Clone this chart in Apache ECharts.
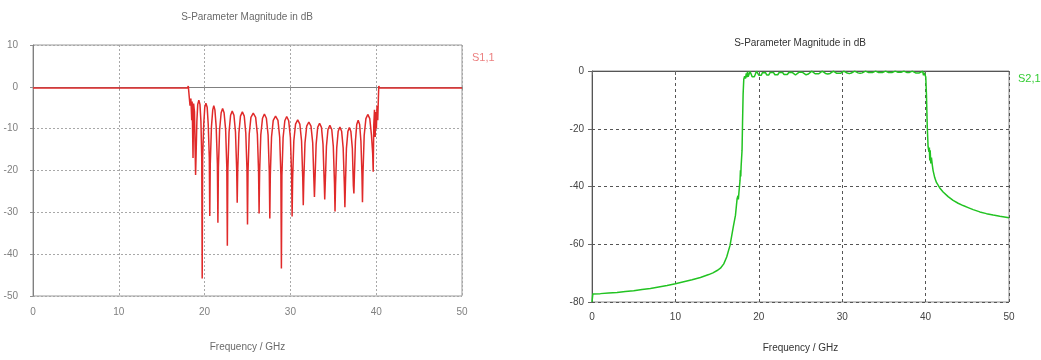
<!DOCTYPE html>
<html>
<head>
<meta charset="utf-8">
<script src="https://cdn.jsdelivr.net/npm/echarts@6/dist/echarts.min.js"></script>
<style>
html,body{margin:0;padding:0;background:#fff;}
#chart{width:1041px;height:360px;}
</style>
</head>
<body>
<div id="chart"></div>
<script>
// ---- data (frequency GHz, magnitude dB) ----
const chartTitle = 'S-Parameter Magnitude in dB';
const xAxisName = 'Frequency / GHz';
const s11Name = 'S1,1';
const s21Name = 'S2,1';

const s11Data = [
  [0,-0.3],[18.0,-0.3],[18.1,0.2],[18.2,-2.2],[18.3,-4.5],[18.4,-2.8],[18.5,-8],[18.55,-3.5],[18.65,-17],[18.72,-4],[18.82,-6],[18.95,-21.1],
  [19.0,-17],[19.1,-8.2],[19.2,-4.2],[19.33,-3.2],[19.46,-4.2],[19.57,-8.2],[19.67,-17],[19.72,-45.8],
  [19.77,-17],[19.9,-8.9],[20.02,-4.9],[20.15,-3.9],[20.3,-4.9],[20.42,-8.9],[20.55,-17],[20.6,-30.9],
  [20.66,-18.5],[20.8,-9.5],[20.95,-5.5],[21.07,-4.5],[21.2,-5.5],[21.35,-9.5],[21.49,-18.5],[21.55,-32.5],
  [21.61,-19.2],[21.75,-10.2],[21.93,-6.2],[22.1,-5.2],[22.27,-6.2],[22.45,-10.2],[22.59,-19.2],[22.65,-38],
  [22.71,-19.8],[22.85,-10.8],[23.03,-6.8],[23.22,-5.8],[23.42,-6.8],[23.6,-10.8],[23.74,-19.8],[23.8,-27.7],
  [23.86,-20],[24.0,-11],[24.18,-7],[24.4,-6.0],[24.62,-7],[24.8,-11],[24.94,-20],[25.0,-32.9],
  [25.06,-20.3],[25.2,-11.3],[25.4,-7.3],[25.67,-6.3],[25.95,-7.3],[26.15,-11.3],[26.29,-20.3],[26.35,-30.3],
  [26.41,-20.5],[26.55,-11.5],[26.75,-7.5],[26.97,-6.5],[27.2,-7.5],[27.4,-11.5],[27.54,-20.5],[27.6,-31.5],
  [27.66,-21],[27.8,-12],[28.0,-8],[28.27,-7.0],[28.55,-8],[28.75,-12],[28.89,-21],[28.95,-43.4],
  [29.01,-21.1],[29.15,-12.1],[29.35,-8.1],[29.57,-7.1],[29.8,-8.1],[30.0,-12.1],[30.14,-21.1],[30.2,-31.0],
  [30.26,-21.9],[30.4,-12.9],[30.6,-8.9],[30.85,-7.9],[31.1,-8.9],[31.3,-12.9],[31.44,-21.9],[31.5,-28.3],
  [31.56,-22.4],[31.7,-13.4],[31.9,-9.4],[32.15,-8.4],[32.4,-9.4],[32.6,-13.4],[32.74,-22.4],[32.8,-26.3],
  [32.86,-22.7],[33.0,-13.7],[33.18,-9.7],[33.4,-8.7],[33.62,-9.7],[33.8,-13.7],[33.94,-22.7],[34.0,-26.9],
  [34.06,-23.2],[34.2,-14.2],[34.38,-10.2],[34.6,-9.2],[34.82,-10.2],[35.0,-14.2],[35.14,-23.2],[35.2,-29.8],
  [35.26,-23.6],[35.4,-14.6],[35.57,-10.6],[35.77,-9.6],[35.97,-10.6],[36.15,-14.6],[36.29,-23.6],[36.35,-28.8],
  [36.41,-23.7],[36.53,-14.7],[36.7,-10.7],[36.87,-9.7],[37.05,-10.7],[37.22,-14.7],[37.34,-23.7],[37.4,-25.5],
  [37.46,-21],[37.58,-13],[37.73,-9],[37.9,-8.0],[38.07,-9],[38.22,-13],[38.34,-21],[38.4,-27.6],
  [38.46,-20.6],[38.6,-11.6],[38.8,-7.6],[39.02,-6.6],[39.25,-7.6],[39.45,-11.6],[39.59,-16],[39.65,-20.3],
  [39.72,-9],[39.8,-5.5],[39.88,-12],[39.95,-6],[40.02,-10],[40.1,-4.5],[40.18,-8],[40.25,-3],[40.3,0.2],[40.4,-0.3],[50,-0.3]
];

const s21Data = [
  [0,-80],[0.1,-77.2],[1,-77.1],[2,-76.9],[3,-76.7],[4,-76.4],[5,-76.1],[6,-75.7],[7,-75.3],[8,-74.8],
  [9,-74.3],[10,-73.7],[11,-73.0],[12,-72.3],[13,-71.5],[14,-70.5],[14.5,-69.9],[15,-69.1],[15.4,-68.3],
  [15.8,-66.8],[16.15,-64.4],[16.55,-60.4],[16.94,-54],[17.2,-50],[17.4,-44.2],[17.5,-43.2],[17.55,-44.5],[17.62,-42],
  [17.75,-37.9],[17.8,-34.4],[17.84,-36.5],[17.88,-33],[17.99,-27.5],[18.05,-18],[18.12,-8],[18.2,-2.8],[18.3,-1.8],
  [18.4,-2.6],[18.5,-0.8],[18.55,-2.2],[18.65,-0.3],[18.72,-2.0],[18.82,-1.2],[18.95,-0.2],
  [19.1,-1.2],[19.2,-2.0],[19.33,-2.4],[19.46,-2.0],[19.57,-1.2],[19.72,-0.05],
  [19.92,-0.6],[20.02,-1.5],[20.15,-1.9],[20.3,-1.5],[20.42,-0.6],[20.6,-0.05],
  [20.8,-0.55],[20.95,-1.35],[21.07,-1.7],[21.2,-1.35],[21.35,-0.55],[21.55,-0.05],
  [21.75,-0.5],[21.93,-1.3],[22.1,-1.6],[22.27,-1.3],[22.45,-0.5],[22.65,-0.05],
  [22.85,-0.5],[23.03,-1.2],[23.22,-1.5],[23.42,-1.2],[23.6,-0.5],[23.8,-0.05],
  [24.0,-0.45],[24.18,-1.1],[24.4,-1.4],[24.62,-1.1],[24.8,-0.45],[25.0,-0.05],
  [25.2,-0.4],[25.4,-1.05],[25.67,-1.3],[25.95,-1.05],[26.15,-0.4],[26.35,-0.05],
  [26.55,-0.4],[26.75,-0.95],[26.97,-1.2],[27.2,-0.95],[27.4,-0.4],[27.6,-0.05],
  [27.8,-0.35],[28.0,-0.85],[28.27,-1.05],[28.55,-0.85],[28.75,-0.35],[28.95,-0.05],
  [29.15,-0.3],[29.35,-0.8],[29.57,-1.0],[29.8,-0.8],[30.0,-0.3],[30.2,-0.05],
  [30.4,-0.3],[30.6,-0.7],[30.85,-0.9],[31.1,-0.7],[31.3,-0.3],[31.5,-0.05],
  [31.7,-0.25],[31.9,-0.65],[32.15,-0.8],[32.4,-0.65],[32.6,-0.25],[32.8,-0.05],
  [33.0,-0.25],[33.18,-0.55],[33.4,-0.7],[33.62,-0.55],[33.8,-0.25],[34.0,-0.05],
  [34.2,-0.2],[34.38,-0.5],[34.6,-0.65],[34.82,-0.5],[35.0,-0.2],[35.2,-0.05],
  [35.4,-0.2],[35.57,-0.5],[35.77,-0.6],[35.97,-0.5],[36.15,-0.2],[36.35,-0.05],
  [36.53,-0.2],[36.7,-0.45],[36.87,-0.55],[37.05,-0.45],[37.22,-0.2],[37.4,-0.05],
  [37.58,-0.2],[37.73,-0.5],[37.9,-0.6],[38.07,-0.5],[38.22,-0.2],[38.4,-0.05],
  [38.6,-0.3],[38.8,-0.65],[39.02,-0.8],[39.25,-0.65],[39.45,-0.3],[39.65,-0.1],
  [39.75,-1.5],[39.85,-0.6],[39.95,-1.2],[40.02,-2.1],[40.1,-8],[40.2,-19.4],[40.3,-26.3],[40.4,-28],
  [40.45,-26.5],[40.5,-31],[40.55,-27.5],[40.62,-32],[40.7,-30],[40.8,-32.5],[40.9,-34.5],[41.1,-37],
  [41.3,-38.6],[41.7,-40.5],[42.1,-41.9],[42.7,-43.5],[43.3,-44.8],[43.9,-45.8],[44.5,-46.6],[45.1,-47.3],
  [45.7,-48.0],[46.5,-48.8],[47.3,-49.4],[48.1,-49.9],[48.9,-50.3],[50,-50.8]
];

const xTicks = {min: 0, max: 50, interval: 10};
const s11Ticks = {min: -50, max: 10, interval: 10};
const s21Ticks = {min: -80, max: 0, interval: 20};

// ---- chart ----
const FONT = '"Liberation Sans", Arial, sans-serif';
const chart = echarts.init(document.getElementById('chart'), null, {renderer: 'canvas'});

const option = {
  backgroundColor: '#ffffff',
  animation: false,
  title: [
    {text: chartTitle, left: 247, top: 12, padding: 0, textAlign: 'center',
     textStyle: {fontFamily: FONT, fontSize: 10, fontWeight: 'normal', color: '#6a6a6a'}},
    {text: chartTitle, left: 800, top: 38, padding: 0, textAlign: 'center',
     textStyle: {fontFamily: FONT, fontSize: 10, fontWeight: 'normal', color: '#333333'}},
    {text: s11Name, left: 472, top: 52, padding: 0,
     textStyle: {fontFamily: FONT, fontSize: 11, fontWeight: 'normal', color: '#ec8080'}},
    {text: s21Name, left: 1018, top: 73, padding: 0,
     textStyle: {fontFamily: FONT, fontSize: 11, fontWeight: 'normal', color: '#33cc33'}}
  ],
  grid: [
    {left: 33, right: 579, top: 45, bottom: 64, show: true, borderColor: '#9a9a9a', borderWidth: 1, backgroundColor: 'transparent'},
    {left: 592, right: 32, top: 71, bottom: 58, show: true, borderColor: '#8a8a8a', borderWidth: 1, backgroundColor: 'transparent'}
  ],
  xAxis: [
    {type: 'value', gridIndex: 0, min: xTicks.min, max: xTicks.max, interval: xTicks.interval,
     name: xAxisName, nameLocation: 'middle', nameGap: 46,
     nameTextStyle: {fontFamily: FONT, fontSize: 10, color: '#6a6a6a'},
     axisLine: {show: true, lineStyle: {color: '#808080', width: 1}},
     axisTick: {show: true, length: 3, lineStyle: {color: '#909090'}},
     axisLabel: {fontFamily: FONT, fontSize: 10, color: '#808080', margin: 11},
     splitLine: {show: true, lineStyle: {color: '#a8a8a8', type: [2, 2], width: 1}}},
    {type: 'value', gridIndex: 1, min: xTicks.min, max: xTicks.max, interval: xTicks.interval,
     name: xAxisName, nameLocation: 'middle', nameGap: 41,
     nameTextStyle: {fontFamily: FONT, fontSize: 10, color: '#333333'},
     axisLine: {show: true, lineStyle: {color: '#555555', width: 1}},
     axisTick: {show: true, length: 4, lineStyle: {color: '#666666'}},
     axisLabel: {fontFamily: FONT, fontSize: 10, color: '#444444', margin: 10},
     splitLine: {show: true, lineStyle: {color: '#555555', type: [3, 3], width: 1}}}
  ],
  yAxis: [
    {type: 'value', gridIndex: 0, min: s11Ticks.min, max: s11Ticks.max, interval: s11Ticks.interval,
     axisLine: {show: true, lineStyle: {color: '#808080', width: 1}},
     axisTick: {show: true, length: 3, lineStyle: {color: '#909090'}},
     axisLabel: {fontFamily: FONT, fontSize: 10, color: '#808080', margin: 15},
     splitLine: {show: true, lineStyle: {color: '#a8a8a8', type: [2, 2], width: 1}}},
    {type: 'value', gridIndex: 1, min: s21Ticks.min, max: s21Ticks.max, interval: s21Ticks.interval,
     axisLine: {show: true, lineStyle: {color: '#555555', width: 1}},
     axisTick: {show: true, length: 4, lineStyle: {color: '#666666'}},
     axisLabel: {fontFamily: FONT, fontSize: 10, color: '#444444', margin: 8},
     splitLine: {show: true, lineStyle: {color: '#555555', type: [3, 3], width: 1}}}
  ],
  series: [
    {name: s11Name, type: 'line', xAxisIndex: 0, yAxisIndex: 0, data: s11Data,
     showSymbol: false, symbol: 'none', clip: true,
     lineStyle: {color: '#e02a2a', width: 1.5}, itemStyle: {color: '#e02a2a'}},
    {name: s21Name, type: 'line', xAxisIndex: 1, yAxisIndex: 1, data: s21Data,
     showSymbol: false, symbol: 'none', clip: true,
     lineStyle: {color: '#22c322', width: 1.5}, itemStyle: {color: '#22c322'}}
  ]
};
chart.setOption(option);
</script>
</body>
</html>
